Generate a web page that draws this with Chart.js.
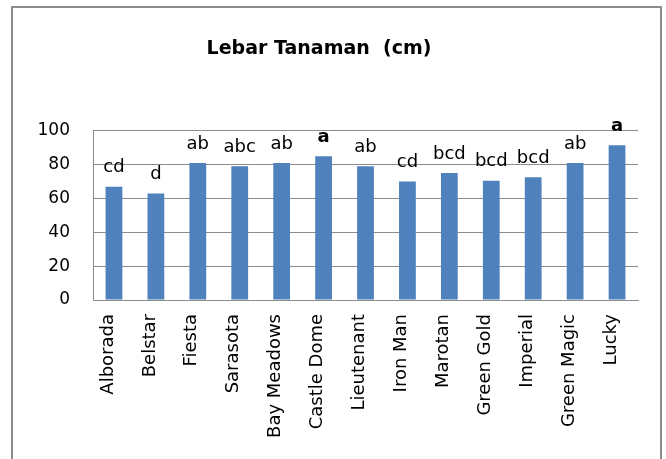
<!DOCTYPE html>
<html lang="id">
<head>
    <meta charset="UTF-8">
    <title>Lebar Tanaman</title>
    <script src="https://cdn.jsdelivr.net/npm/chart.js"></script>
    <style>
        body {
            margin: 0;
            background-color: white;
        }
        #wrap {
            position: relative;
            width: 666px;
            height: 459px;
            overflow: hidden;
        }
        #frame {
            position: absolute;
            left: 11px;
            top: 6px;
            width: 647px;
            height: 480px;
            border: 2px solid #8c8c8c;
            pointer-events: none;
        }
    </style>
</head>
<body>

<div id="wrap">
    <canvas id="chart" width="666" height="459"></canvas>
    <div id="frame"></div>
</div>

<script>

    let varieties = ["Alborada", "Belstar", "Fiesta", "Sarasota", "Bay Meadows", "Castle Dome",
        "Lieutenant", "Iron Man", "Marotan", "Green Gold", "Imperial", "Green Magic", "Lucky"];
    let widths = [67, 63, 81, 79, 81, 85, 79, 70, 75, 70.5, 72.5, 81, 91.5];
    let letters = ["cd", "d", "ab", "abc", "ab", "a", "ab", "cd", "bcd", "bcd", "bcd", "ab", "a"];
    let yTicks = [0, 20, 40, 60, 80, 100];

    // letters above each bar
    const letterPlugin = {
        id: 'letters',
        afterDatasetsDraw(chart) {
            let ctx = chart.ctx;
            let meta = chart.getDatasetMeta(0);
            ctx.save();
            ctx.fillStyle = '#000';
            ctx.textAlign = 'center';
            ctx.textBaseline = 'middle';
            meta.data.forEach(function(bar, i) {
                let bold = letters[i] === 'a' ? 'bold ' : '';
                ctx.font = bold + '18px "DejaVu Sans"';
                ctx.fillText(letters[i], bar.x, bar.y - 19);
            });
            ctx.restore();
        }
    };

    let ctx = document.getElementById('chart').getContext('2d');
    let myChart = new Chart(ctx, {
        type: 'bar',
        data: {
            labels: varieties,
            datasets: [{
                data: widths,
                backgroundColor: '#4f81bd',
                borderWidth: 0,
                barPercentage: 0.4,
                categoryPercentage: 1
            }]
        },
        plugins: [letterPlugin],
        options: {
            responsive: false,
            animation: false,
            layout: {
                padding: {left: 0, right: 28, top: 0, bottom: 0}
            },
            plugins: {
                legend: {display: false},
                tooltip: {enabled: false},
                title: {
                    display: true,
                    text: 'Lebar Tanaman  (cm)',
                    color: '#000',
                    font: {family: '"DejaVu Sans"', size: 19, weight: 'bold'},
                    padding: {top: 38, bottom: 70}
                }
            },
            scales: {
                x: {
                    grid: {display: false, drawTicks: false},
                    border: {color: '#8c8c8c', width: 1},
                    ticks: {
                        color: '#000',
                        font: {family: '"DejaVu Sans"', size: 18},
                        minRotation: 90,
                        maxRotation: 90,
                        autoSkip: false,
                        labelOffset: -6,
                        padding: 14
                    },
                    afterFit: function(scale) { scale.height = 159; }
                },
                y: {
                    min: 0,
                    max: 100,
                    grid: {color: '#8c8c8c', drawTicks: false},
                    border: {color: '#8c8c8c', width: 1},
                    afterBuildTicks: function(scale) {
                        scale.ticks = yTicks.map(v => ({value: v}));
                    },
                    ticks: {
                        color: '#000',
                        font: {family: '"DejaVu Sans"', size: 17},
                        padding: 23
                    },
                    afterFit: function(scale) { scale.width = 93; }
                }
            }
        }
    });

</script>
</body>
</html>
